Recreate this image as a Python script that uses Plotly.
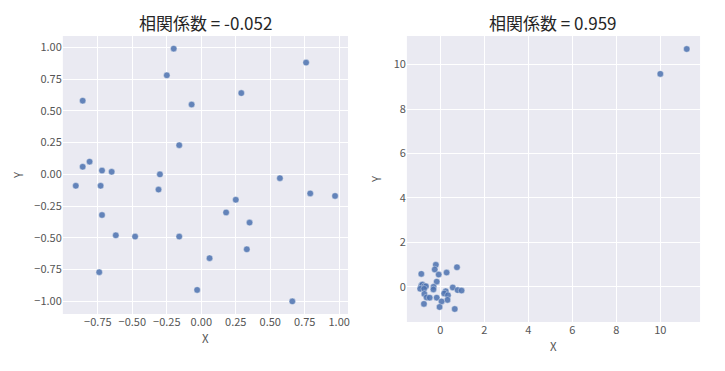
import plotly.graph_objects as go
import numpy as np

# Data
x_vals = [-0.20, -0.25, 0.76, -0.86, 0.29, -0.07, -0.16, -0.86, -0.81, -0.72,
          -0.65, -0.30, -0.91, -0.73, -0.31, 0.57, 0.79, 0.97, 0.25, 0.18,
          0.35, -0.72, -0.62, -0.48, -0.16, 0.33, 0.06, -0.74, -0.03, 0.66]
y_vals = [0.99, 0.78, 0.88, 0.58, 0.64, 0.55, 0.23, 0.06, 0.10, 0.03,
          0.02, 0.00, -0.09, -0.09, -0.12, -0.03, -0.15, -0.17, -0.20, -0.30,
          -0.38, -0.32, -0.48, -0.49, -0.49, -0.59, -0.66, -0.77, -0.91, -1.00]
outlier_x = [10.0, 11.2]
outlier_y = [9.58, 10.70]

title_left = "相関係数 = -0.052"
title_right = "相関係数 = 0.959"

left_xticks = [-0.75, -0.50, -0.25, 0.00, 0.25, 0.50, 0.75, 1.00]
left_yticks = [-1.00, -0.75, -0.50, -0.25, 0.00, 0.25, 0.50, 0.75, 1.00]
right_xticks = [0, 2, 4, 6, 8, 10]
right_yticks = [0, 2, 4, 6, 8, 10]


def fmt(v, dec):
    s = f"{abs(v):.{dec}f}"
    return ("\u2212" + s) if v < 0 else s


x2 = x_vals + outlier_x
y2 = y_vals + outlier_y


def rng(vals):
    lo, hi = min(vals), max(vals)
    m = (hi - lo) * 0.05
    return [lo - m, hi + m]


W, H = 725, 371
BG = "#EAEAF2"
MC = "#4C72B0"
FONT = "Noto Sans CJK JP, Noto Sans, sans-serif"
TXT = "#555555"

fig = go.Figure()
marker = dict(size=6.5, color=MC, opacity=0.85, line=dict(width=0.4, color="white"))
fig.add_trace(go.Scatter(x=x_vals, y=y_vals, mode="markers", marker=marker,
                         xaxis="x", yaxis="y", showlegend=False))
fig.add_trace(go.Scatter(x=x2, y=y2, mode="markers", marker=marker,
                         xaxis="x2", yaxis="y2", showlegend=False))

ax_common = dict(showgrid=True, gridcolor="white", gridwidth=1, zeroline=False,
                 showline=False, ticks="", tickfont=dict(family=FONT, size=11, color=TXT))

fig.update_layout(
    width=W, height=H, margin=dict(l=0, r=0, t=0, b=0),
    paper_bgcolor="white", plot_bgcolor=BG,
    xaxis=dict(domain=[63 / W, 349 / W], anchor="y", range=rng(x_vals),
               tickvals=left_xticks, ticktext=[fmt(v, 2) for v in left_xticks], **ax_common),
    yaxis=dict(domain=[1 - 314 / H, 1 - 36 / H], anchor="x", range=rng(y_vals),
               tickvals=left_yticks, ticktext=[fmt(v, 2) for v in left_yticks], **ax_common),
    xaxis2=dict(domain=[408 / W, 702 / W], anchor="y2", range=rng(x2),
                tickvals=right_xticks, ticktext=[fmt(v, 0) for v in right_xticks], **ax_common),
    yaxis2=dict(domain=[1 - 322 / H, 1 - 36 / H], anchor="x2", range=rng(y2),
                tickvals=right_yticks, ticktext=[fmt(v, 0) for v in right_yticks], **ax_common),
)

ann = []
def add_text(text, px, py, size, color, angle=0):
    ann.append(dict(text=text, x=px / W, y=1 - py / H, xref="paper", yref="paper",
                    showarrow=False, xanchor="center", yanchor="middle", textangle=angle,
                    font=dict(family=FONT, size=size, color=color)))

add_text(title_left, 206, 23, 17, "#262626")
add_text(title_right, 555, 23, 17, "#262626")
add_text("X", 206, 338, 11.5, TXT)
add_text("X", 555, 346, 11.5, TXT)
add_text("Y", 18, 175, 11.5, TXT, -90)
add_text("Y", 377, 179, 11.5, TXT, -90)
fig.update_layout(annotations=ann)

fig.write_html("out.html", config={"displayModeBar": False},
               post_script="document.body.style.margin='0';document.body.style.overflow='hidden';")
